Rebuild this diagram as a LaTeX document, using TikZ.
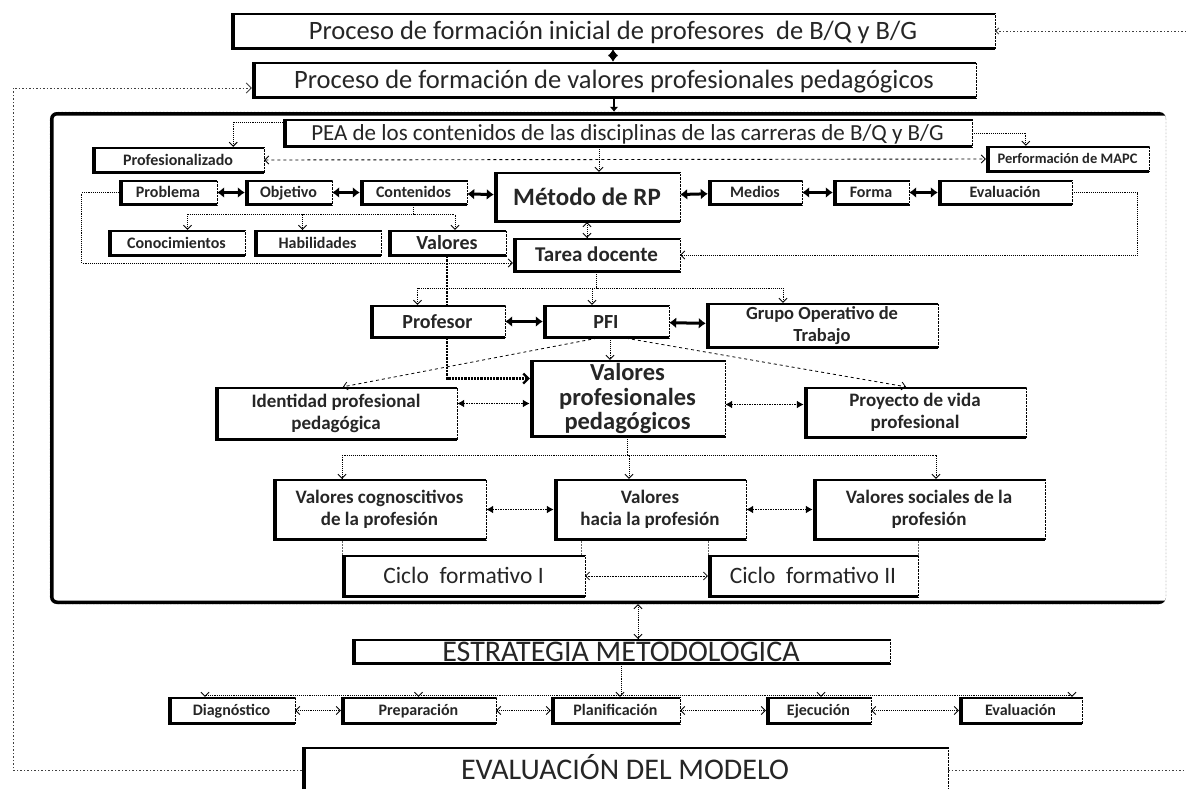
\documentclass[tikz,border=0pt]{standalone}
\usepackage{fontspec}
\setmainfont{Carlito}
\usetikzlibrary{arrows.meta}

\begin{document}
\begin{tikzpicture}[x=1pt,y=-1pt,
  box/.style={draw,densely dotted,thin,fill=white,align=center,inner sep=1pt,text=black!85,
    path picture={
      \draw[solid,line width=4pt] (path picture bounding box.north east) -- (path picture bounding box.north west)
        -- (path picture bounding box.south west) -- (path picture bounding box.south east);
      \draw[solid,line width=8pt] (path picture bounding box.north west) -- (path picture bounding box.south west);}},
  fs/.style={font=\fontsize{#1}{#1}\selectfont,text height={0.65*#1pt},text depth=0pt},
  bfs/.style={fs=#1,font=\bfseries\fontsize{#1}{#1}\selectfont},
  sz/.style 2 args={minimum width=#1pt,minimum height=#2pt},
  frame/.style={draw,densely dotted,thin,rounded corners=7pt,
    path picture={
      \draw[solid,line width=7pt] (path picture bounding box.north east) -- (path picture bounding box.north west)
        -- (path picture bounding box.south west) -- (path picture bounding box.south east);}},
  small/.style={bfs=16},
  mid/.style={font=\bfseries\fontsize{19}{22}\selectfont},
  link/.style={line width=3pt,{Latex[length=7pt,width=11pt]}-{Latex[length=7pt,width=11pt]}},
  mlink/.style={line width=1.5pt,densely dotted,{Latex[length=7pt,width=8pt]}-{Latex[length=7pt,width=8pt]}},
  flow/.style={densely dotted,line width=0.9pt,-{Straight Barb[length=4pt,width=8pt]}},
  both/.style={densely dotted,line width=0.9pt,{Straight Barb[length=4pt,width=8pt]}-{Straight Barb[length=4pt,width=8pt]}},
  dline/.style={densely dotted,line width=0.9pt},
  heavy/.style={densely dotted,line width=2.2pt},
  thinline/.style={densely dotted,line width=0.5pt,black!60},
  dflow/.style={dashed,line width=0.8pt,-{Straight Barb[length=4pt,width=8pt]}},
  side/.style={dash pattern=on 1.5pt off 2pt,line width=0.8pt,black!75}]
\useasboundingbox (0,0) rectangle (1186,788);

% outer frame of the model
\node[frame,sz={1116}{492}] (model) at (608,358) {};

\node[box,sz={764}{36},fs=26.5] (t1) at (613,31) {Proceso de formación inicial de profesores~ de B/Q y B/G};
\node[box,sz={724}{36},fs=26.5] (t2) at (614,80) {Proceso de formación de valores profesionales pedagógicos};
\node[box,sz={689}{28},fs=23] (pea) at (627.5,133) {PEA de los contenidos de las disciplinas de las carreras de B/Q y B/G};
\node[box,sz={172}{26},small] (profz) at (178,160) {Profesionalizado};
\node[box,sz={163}{26},bfs=14.5] (perf) at (1067.5,159) {Performación de MAPC};

% components of the process
\node[box,sz={98}{25},small] (prob) at (168,192.5) {Problema};
\node[box,sz={87}{25},small] (obj) at (288.5,192.5) {Objetivo};
\node[box,sz={107}{25},small] (cont) at (413.5,192.5) {Contenidos};
\node[box,sz={186}{50},bfs=25] (metodo) at (587,197) {Método de RP};
\node[box,sz={94}{25},small] (medios) at (755,192.5) {Medios};
\node[box,sz={76}{25},small] (forma) at (871,192.5) {Forma};
\node[box,sz={134}{25},small] (evalr) at (1005,192.5) {Evaluación};

\node[box,sz={137}{26},small] (conoc) at (176.5,243) {Conocimientos};
\node[box,sz={127}{26},small] (habil) at (317.5,243) {Habilidades};
\node[box,sz={118}{26},bfs=20] (valr) at (447,243) {Valores};
\node[box,sz={167}{34},bfs=21] (tarea) at (596.5,255) {Tarea docente};

\node[box,sz={135}{33},bfs=20] (profe) at (437.5,321.5) {Profesor};
\node[box,sz={126}{33},bfs=20] (pfi) at (606,321.5) {PFI};
\node[box,sz={232}{45},font=\bfseries\fontsize{18.5}{22}\selectfont] (grupo) at (822,325.5) {Grupo Operativo de\\Trabajo};

\node[box,sz={242}{53},mid] (ident) at (336,413.5) {Identidad profesional\\pedagógica};
\node[box,sz={195}{77},font=\bfseries\fontsize{24.5}{24.5}\selectfont] (vpp) at (627.5,398.5) {Valores\\profesionales\\pedagógicos};
\node[box,sz={222}{51},mid] (proy) at (915,412.5) {Proyecto de vida\\profesional};

\node[box,sz={213}{61},mid] (vcog) at (379.5,509.5) {Valores cognoscitivos\\de la profesión};
\node[box,sz={192}{61},mid] (vhac) at (650,509.5) {Valores\\hacia la profesión};
\node[box,sz={232}{61},mid] (vsoc) at (929,509.5) {Valores sociales de la\\profesión};

\node[box,sz={243}{42},fs=23.5] (ciclo1) at (463.5,576) {Ciclo~ formativo I};
\node[box,sz={210}{42},fs=23.5] (ciclo2) at (813,576) {Ciclo~ formativo II};

% strategy
\node[box,sz={538}{25},fs=30,inner sep=0pt] (estr) at (621,651.5) {ESTRATEGIA METODOLOGICA};
\node[box,sz={127}{27},small] (diag) at (231.5,710.5) {Diagnóstico};
\node[box,sz={155}{27},small] (prep) at (418.5,710.5) {Preparación};
\node[box,sz={129}{27},small] (plan) at (615.5,710.5) {Planificación};
\node[box,sz={105}{27},small] (ejec) at (818.5,710.5) {Ejecución};
\node[box,sz={123}{27},small] (evalc) at (1020.5,710.5) {Evaluación};
\node[box,sz={646}{46},fs=30] (evalm) at (625,770) {EVALUACIÓN DEL MODELO};

% top chain
\draw[link,line width=1.5pt] (t1.south) -- (t1.south |- t2.north);
\draw[link,line width=1.5pt,-{Latex[length=5pt,width=9pt]}] (t2.south) -- (t2.south |- model.north);
\draw[flow] ([yshift=11pt]pea.west) -| ([xshift=-31pt]profz.north east);
\draw[flow] (pea.east) -| ([xshift=40pt]perf.north west);
\draw[both,dashed] (profz.east) -- (perf.west);
\draw[flow] (pea.south -| 599,0) -- (metodo.north -| 599,0);

\path[link] (prob) edge (obj) (obj) edge (cont) (cont) edge (metodo)
  (metodo) edge (medios) (medios) edge (forma) (forma) edge (evalr);

\draw[dline] (cont.south) -- ++(0,9) coordinate (cs);
\foreach \n/\d in {conoc/11,habil/-15,valr/8}
  \draw[flow] (cs) -| ([xshift=\d pt]\n.north);
\draw[flow] (prob.west) -- ++(-37,0) |- ([yshift=-8pt]tarea.west);
\draw[both] (metodo.south) -- (metodo.south |- tarea.north);
\draw[flow] (evalr.east) -- ++(65,0) |- (tarea.east);

\draw[dline] (tarea.south) -- ++(0,16) coordinate (ts);
\foreach \n/\d in {profe/-20,pfi/-14,grupo/-39}
  \draw[flow] (ts) -| ([xshift=\d pt]\n.north);
\draw[heavy] (valr.south) -- (valr.south |- profe.north);
\draw[heavy,-{Straight Barb[length=5pt,width=10pt]}] ([xshift=9.5pt]profe.south) |- ([yshift=20pt]vpp.west);
\path[link] (profe) edge (pfi) (pfi) edge (grupo);
\draw[flow] ([xshift=4pt]pfi.south) -- ([xshift=4pt]pfi.south |- vpp.north);
\draw[dflow] ([xshift=-9pt]pfi.south) -- ([xshift=7pt]ident.north);
\draw[dflow] ([xshift=20pt]pfi.south) -- ([xshift=-9pt]proy.north);
\draw[mlink] ([yshift=10pt]ident.east) -- ([yshift=10pt]ident.east -| vpp.west);
\draw[mlink] ([yshift=-6pt]vpp.east) -- ([yshift=-6pt]vpp.east -| proy.west);

\draw[dline] (vpp.south) -- ++(0,18) coordinate (vs);
\foreach \n/\d in {vcog/-37.5,vhac/-21,vsoc/7}
  \draw[flow] (vs) -| ([xshift=\d pt]\n.north);
\draw[mlink] (vcog) -- (vhac);
\draw[mlink] (vhac) -- (vsoc);
\draw[thinline] (ciclo1.north west) -- (ciclo1.north west |- vcog.south);
\draw[thinline] ([xshift=-4pt]ciclo1.north east) -- ([xshift=-4pt]ciclo1.north east |- vhac.south);
\draw[thinline] (ciclo2.north west) -- (ciclo2.north west |- vhac.south);
\draw[thinline] (ciclo2.north east) -- (ciclo2.north east |- vsoc.south);
\draw[both,line width=0.6pt] (ciclo1) -- (ciclo2);

% strategy
\draw[both] (model.south -| 638,0) -- (estr.north -| 638,0);
\draw[dline] (estr.south) -- ++(0,31) coordinate (es);
\foreach \n/\d in {diag/-26.5,prep/0,plan/4.5,ejec/2.5,evalc/51.5}
  \draw[flow] (es) -| ([xshift=\d pt]\n.north);
\path[both] (diag) edge (prep) (prep) edge (plan) (plan) edge (ejec) (ejec) edge (evalc);

% feedback of the evaluation
\coordinate (lb) at (13,770);
\coordinate (lt) at (13,88);
\coordinate (rt) at (1186,31);
\coordinate (rb) at (1186,770);
\draw[side,-{Straight Barb[length=5pt,width=10pt]}] (evalm.west) -- (lb) -- (lt) -- (t2.west |- lt);
\draw[side,-{Straight Barb[length=3pt,width=6pt]}] (rt) -- (t1.east);
\draw[side] (evalm.east) -- (rb);
\end{tikzpicture}
\end{document}
